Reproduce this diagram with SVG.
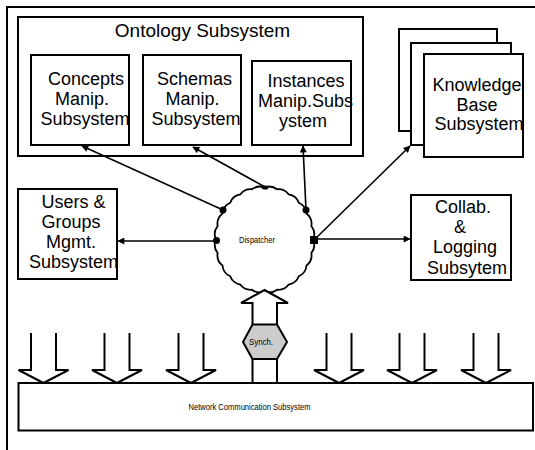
<svg xmlns="http://www.w3.org/2000/svg" width="535" height="450" viewBox="0 0 535 450">
<style>
.box{fill:#fff;stroke:#000;stroke-width:2}
.t{font-family:"Liberation Sans",Arial,sans-serif;font-size:18px;text-anchor:middle;fill:#000}
.s{font-family:"Liberation Sans",Arial,sans-serif;font-size:9.5px;text-anchor:middle;fill:#000}
.c{stroke:#000;stroke-width:1.6;fill:none;marker-end:url(#ah)}
.big{fill:#fff;stroke:#000;stroke-width:2;stroke-linejoin:miter}
.dot{fill:#000}
</style>
<defs>
<marker id="ah" viewBox="0 0 10 10" refX="9" refY="5" markerWidth="8" markerHeight="7" markerUnits="userSpaceOnUse" orient="auto">
<path d="M0,0 L10,5 L0,10 Z" fill="#000"/>
</marker>
</defs>
<rect width="535" height="450" fill="#fff"/>
<g id="frame"><path d="M7,450 V7 H535" fill="none" stroke="#000" stroke-width="2"/></g>

<g id="ontology">
<rect class="box" x="18" y="17" width="345" height="139"/>
<text class="t" x="202.5" y="36.5" style="font-size:19px">Ontology Subsystem</text>
</g>
<g id="concepts">
<rect class="box" x="31" y="55" width="98" height="90"/>
<text class="t" x="86" y="85">Concepts</text>
<text class="t" x="82" y="105">Manip.</text>
<text class="t" x="85" y="124.5">Subsystem</text>
</g>
<g id="schemas">
<rect class="box" x="143" y="55" width="98" height="90"/>
<text class="t" x="194.5" y="85">Schemas</text>
<text class="t" x="192.5" y="105">Manip.</text>
<text class="t" x="196" y="124.5">Subsystem</text>
</g>
<g id="instances">
<rect class="box" x="252" y="61" width="99" height="84"/>
<text class="t" x="306" y="87">Instances</text>
<text class="t" x="305.5" y="107">Manip.Subs</text>
<text class="t" x="303" y="127">ystem</text>
</g>
<g id="knowledge">
<rect class="box" x="399" y="29" width="98" height="102"/>
<rect class="box" x="411" y="43" width="100" height="102"/>
<rect class="box" x="424" y="54" width="99" height="103"/>
<text class="t" x="477" y="90.5">Knowledge</text>
<text class="t" x="477" y="111">Base</text>
<text class="t" x="479" y="130">Subsystem</text>
</g>
<g id="users">
<rect class="box" x="18" y="189" width="99" height="90"/>
<text class="t" x="73.5" y="208">Users &amp;</text>
<text class="t" x="71" y="228">Groups</text>
<text class="t" x="71" y="248">Mgmt.</text>
<text class="t" x="73.5" y="268">Subsystem</text>
</g>
<g id="collab">
<rect class="box" x="411" y="195" width="100" height="85"/>
<text class="t" x="463" y="213">Collab.</text>
<text class="t" x="460" y="233">&amp;</text>
<text class="t" x="465" y="253">Logging</text>
<text class="t" x="467" y="274">Subsytem</text>
</g>

<g id="connectors">
<line class="c" x1="223" y1="210" x2="82" y2="146"/>
<line class="c" x1="265" y1="187" x2="193" y2="147"/>
<line class="c" x1="306" y1="210" x2="303" y2="146"/>
<line class="c" x1="314" y1="240" x2="410" y2="146"/>
<line class="c" x1="216" y1="241" x2="118" y2="241"/>
<line class="c" x1="314" y1="239" x2="410" y2="239"/>
</g>

<g id="dispatcher">
<path fill="#fff" stroke="#000" stroke-width="1.8" d="M313,239.5 A13 13 0 0 1 311.35,252.96 A13 13 0 0 1 306.5,265.5 A13 13 0 0 1 298.79,276.27 A13 13 0 0 1 288.75,284.53 A13 13 0 0 1 277.05,289.73 A13 13 0 0 1 264.5,291.5 A13 13 0 0 1 251.95,289.73 A13 13 0 0 1 240.25,284.53 A13 13 0 0 1 230.21,276.27 A13 13 0 0 1 222.5,265.5 A13 13 0 0 1 217.65,252.96 A13 13 0 0 1 216,239.5 A13 13 0 0 1 217.65,226.04 A13 13 0 0 1 222.5,213.5 A13 13 0 0 1 230.21,202.73 A13 13 0 0 1 240.25,194.47 A13 13 0 0 1 251.95,189.27 A13 13 0 0 1 264.5,187.5 A13 13 0 0 1 277.05,189.27 A13 13 0 0 1 288.75,194.47 A13 13 0 0 1 298.79,202.73 A13 13 0 0 1 306.5,213.5 A13 13 0 0 1 311.35,226.04 A13 13 0 0 1 313,239.5 Z"/>
<text class="s" x="257" y="243" textLength="36" lengthAdjust="spacingAndGlyphs">Dispatcher</text>
<circle class="dot" cx="223" cy="210" r="3.5"/>
<circle class="dot" cx="216.5" cy="240.5" r="3.5"/>
<ellipse class="dot" cx="265" cy="187.5" rx="3.5" ry="2"/>
<circle class="dot" cx="306" cy="210" r="3.5"/>
<rect class="dot" x="310" y="236" width="8" height="8"/>
</g>

<g id="uparrow">
<path class="big" fill="none" d="M252.5,324 V303 H241 L264.5,290 L288,303 H277 V324"/>
<path class="big" d="M252.5,359 V383 M277,359 V383"/>
</g>
<g id="synch">
<polygon points="252.5,324.5 277,324.5 287,342 277,359 252.5,359 243,342" fill="#cccccc" stroke="#000" stroke-width="2"/>
<text class="s" x="261" y="345" textLength="24" lengthAdjust="spacingAndGlyphs">Synch.</text>
</g>

<g id="downarrows">
<path class="big" d="M31,333 V370 H18.5 L43.5,383 L68.5,370 H56 V333"/>
<path class="big" d="M104.5,333 V370 H92 L117,383 L142,370 H129.5 V333"/>
<path class="big" d="M178.5,333 V370 H166 L191,383 L216,370 H203.5 V333"/>
<path class="big" d="M326.5,333 V370 H314 L339,383 L364,370 H351.5 V333"/>
<path class="big" d="M399.5,333 V370 H387 L412,383 L437,370 H424.5 V333"/>
<path class="big" d="M473.5,333 V370 H461 L486,383 L511,370 H498.5 V333"/>
</g>

<g id="network">
<rect class="box" x="18.5" y="383" width="514.5" height="47.5"/>
<text class="s" x="249.5" y="410" textLength="122" lengthAdjust="spacingAndGlyphs">Network Communication Subsystem</text>
</g>
</svg>
